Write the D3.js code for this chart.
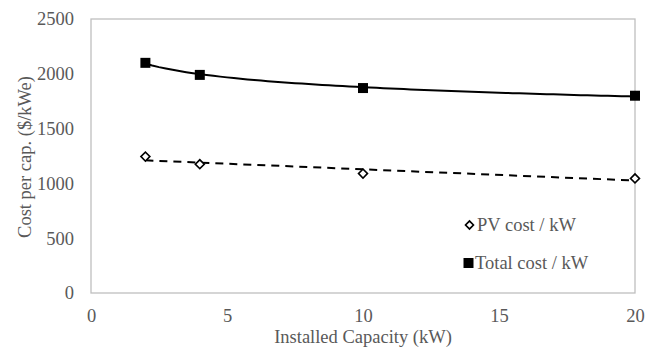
<!DOCTYPE html>
<html><head><meta charset="utf-8">
<script src="https://cdn.jsdelivr.net/npm/d3@7"></script>
<style>body{margin:0;background:#fff}svg text{font-family:"Liberation Serif","Times New Roman",serif;fill:#595959}</style>
</head><body><svg id="c" width="658" height="349"></svg>
<script>
const capacity = [2, 4, 10, 20];
const pvCost = [1245, 1175, 1090, 1045];
const totalCost = [2100, 1990, 1870, 1800];
const xTicks = [0, 5, 10, 15, 20];
const yTicks = [0, 500, 1000, 1500, 2000, 2500];
const seriesNames = ["PV cost / kW", "Total cost / kW"];

const FS = 18.5;
const svg = d3.select("#c");
const x = d3.scaleLinear().domain([0, 20]).range([91, 635]);
const y = d3.scaleLinear().domain([0, 2500]).range([293, 19]);

svg.append("rect").attr("x", 91).attr("y", 19).attr("width", 544).attr("height", 274)
  .attr("fill", "none").attr("stroke", "#bfbfbf").attr("stroke-width", 1.3);

const ya = svg.append("g").attr("transform", "translate(91,0)")
  .call(d3.axisLeft(y).tickValues(yTicks).tickFormat(d3.format("d")).tickSize(0).tickPadding(17));
ya.select(".domain").remove();
ya.selectAll("text").attr("font-size", FS).attr("font-family", "Liberation Serif").attr("fill", "#595959");
const xa = svg.append("g").attr("transform", "translate(0,293)")
  .call(d3.axisBottom(x).tickValues(xTicks).tickFormat(d3.format("d")).tickSize(0).tickPadding(16));
xa.select(".domain").remove();
xa.selectAll("text").attr("font-size", FS).attr("font-family", "Liberation Serif").attr("fill", "#595959");

function linFit(xs, ys) {
  const mx = d3.mean(xs), my = d3.mean(ys);
  let sxy = 0, sxx = 0;
  xs.forEach((v, i) => { sxy += (v - mx) * (ys[i] - my); sxx += (v - mx) ** 2; });
  const b = sxy / sxx; return [b, my - b * mx];
}
const [pb, pa] = linFit(capacity, pvCost);
const [tb, ta] = linFit(capacity.map(Math.log), totalCost.map(Math.log));
const xs = d3.range(2, 20.01, 0.25);
const line = d3.line().x(d => x(d[0])).y(d => y(d[1]));
svg.append("path").attr("d", line(xs.map(v => [v, Math.exp(ta) * Math.pow(v, tb)])))
  .attr("fill", "none").attr("stroke", "#000").attr("stroke-width", 2);
svg.append("path").attr("d", line([2, 20].map(v => [v, pa + pb * v])))
  .attr("fill", "none").attr("stroke", "#000").attr("stroke-width", 2).attr("stroke-dasharray", "8,6");

const sq = d3.symbol().type(d3.symbolSquare).size(100);
svg.selectAll(".t").data(capacity).join("path")
  .attr("transform", (d, i) => `translate(${x(d)},${y(totalCost[i])})`).attr("d", sq()).attr("fill", "#000");
svg.selectAll(".p").data(capacity).join("path")
  .attr("transform", (d, i) => `translate(${x(d)},${y(pvCost[i])}) rotate(45)`)
  .attr("d", d3.symbol().type(d3.symbolSquare).size(40)()).attr("fill", "#fff").attr("stroke", "#000").attr("stroke-width", 1.6);

svg.append("text").attr("x", 363).attr("y", 343).attr("text-anchor", "middle").attr("font-size", FS).text("Installed Capacity (kW)");
svg.append("text").attr("transform", "translate(31,157) rotate(-90)").attr("text-anchor", "middle").attr("font-size", FS).text("Cost per cap. ($/kWe)");

const lg = svg.append("g");
lg.append("path").attr("transform", "translate(469.5,225) rotate(45)").attr("d", d3.symbol().type(d3.symbolSquare).size(32)())
  .attr("fill", "#fff").attr("stroke", "#000").attr("stroke-width", 1.6);
lg.append("text").attr("x", 477).attr("y", 231).attr("font-size", FS).text(seriesNames[0]);
lg.append("path").attr("transform", "translate(468.5,263)").attr("d", d3.symbol().type(d3.symbolSquare).size(100)()).attr("fill", "#000");
lg.append("text").attr("x", 475).attr("y", 268.5).attr("font-size", FS).text(seriesNames[1]);
</script></body></html>
